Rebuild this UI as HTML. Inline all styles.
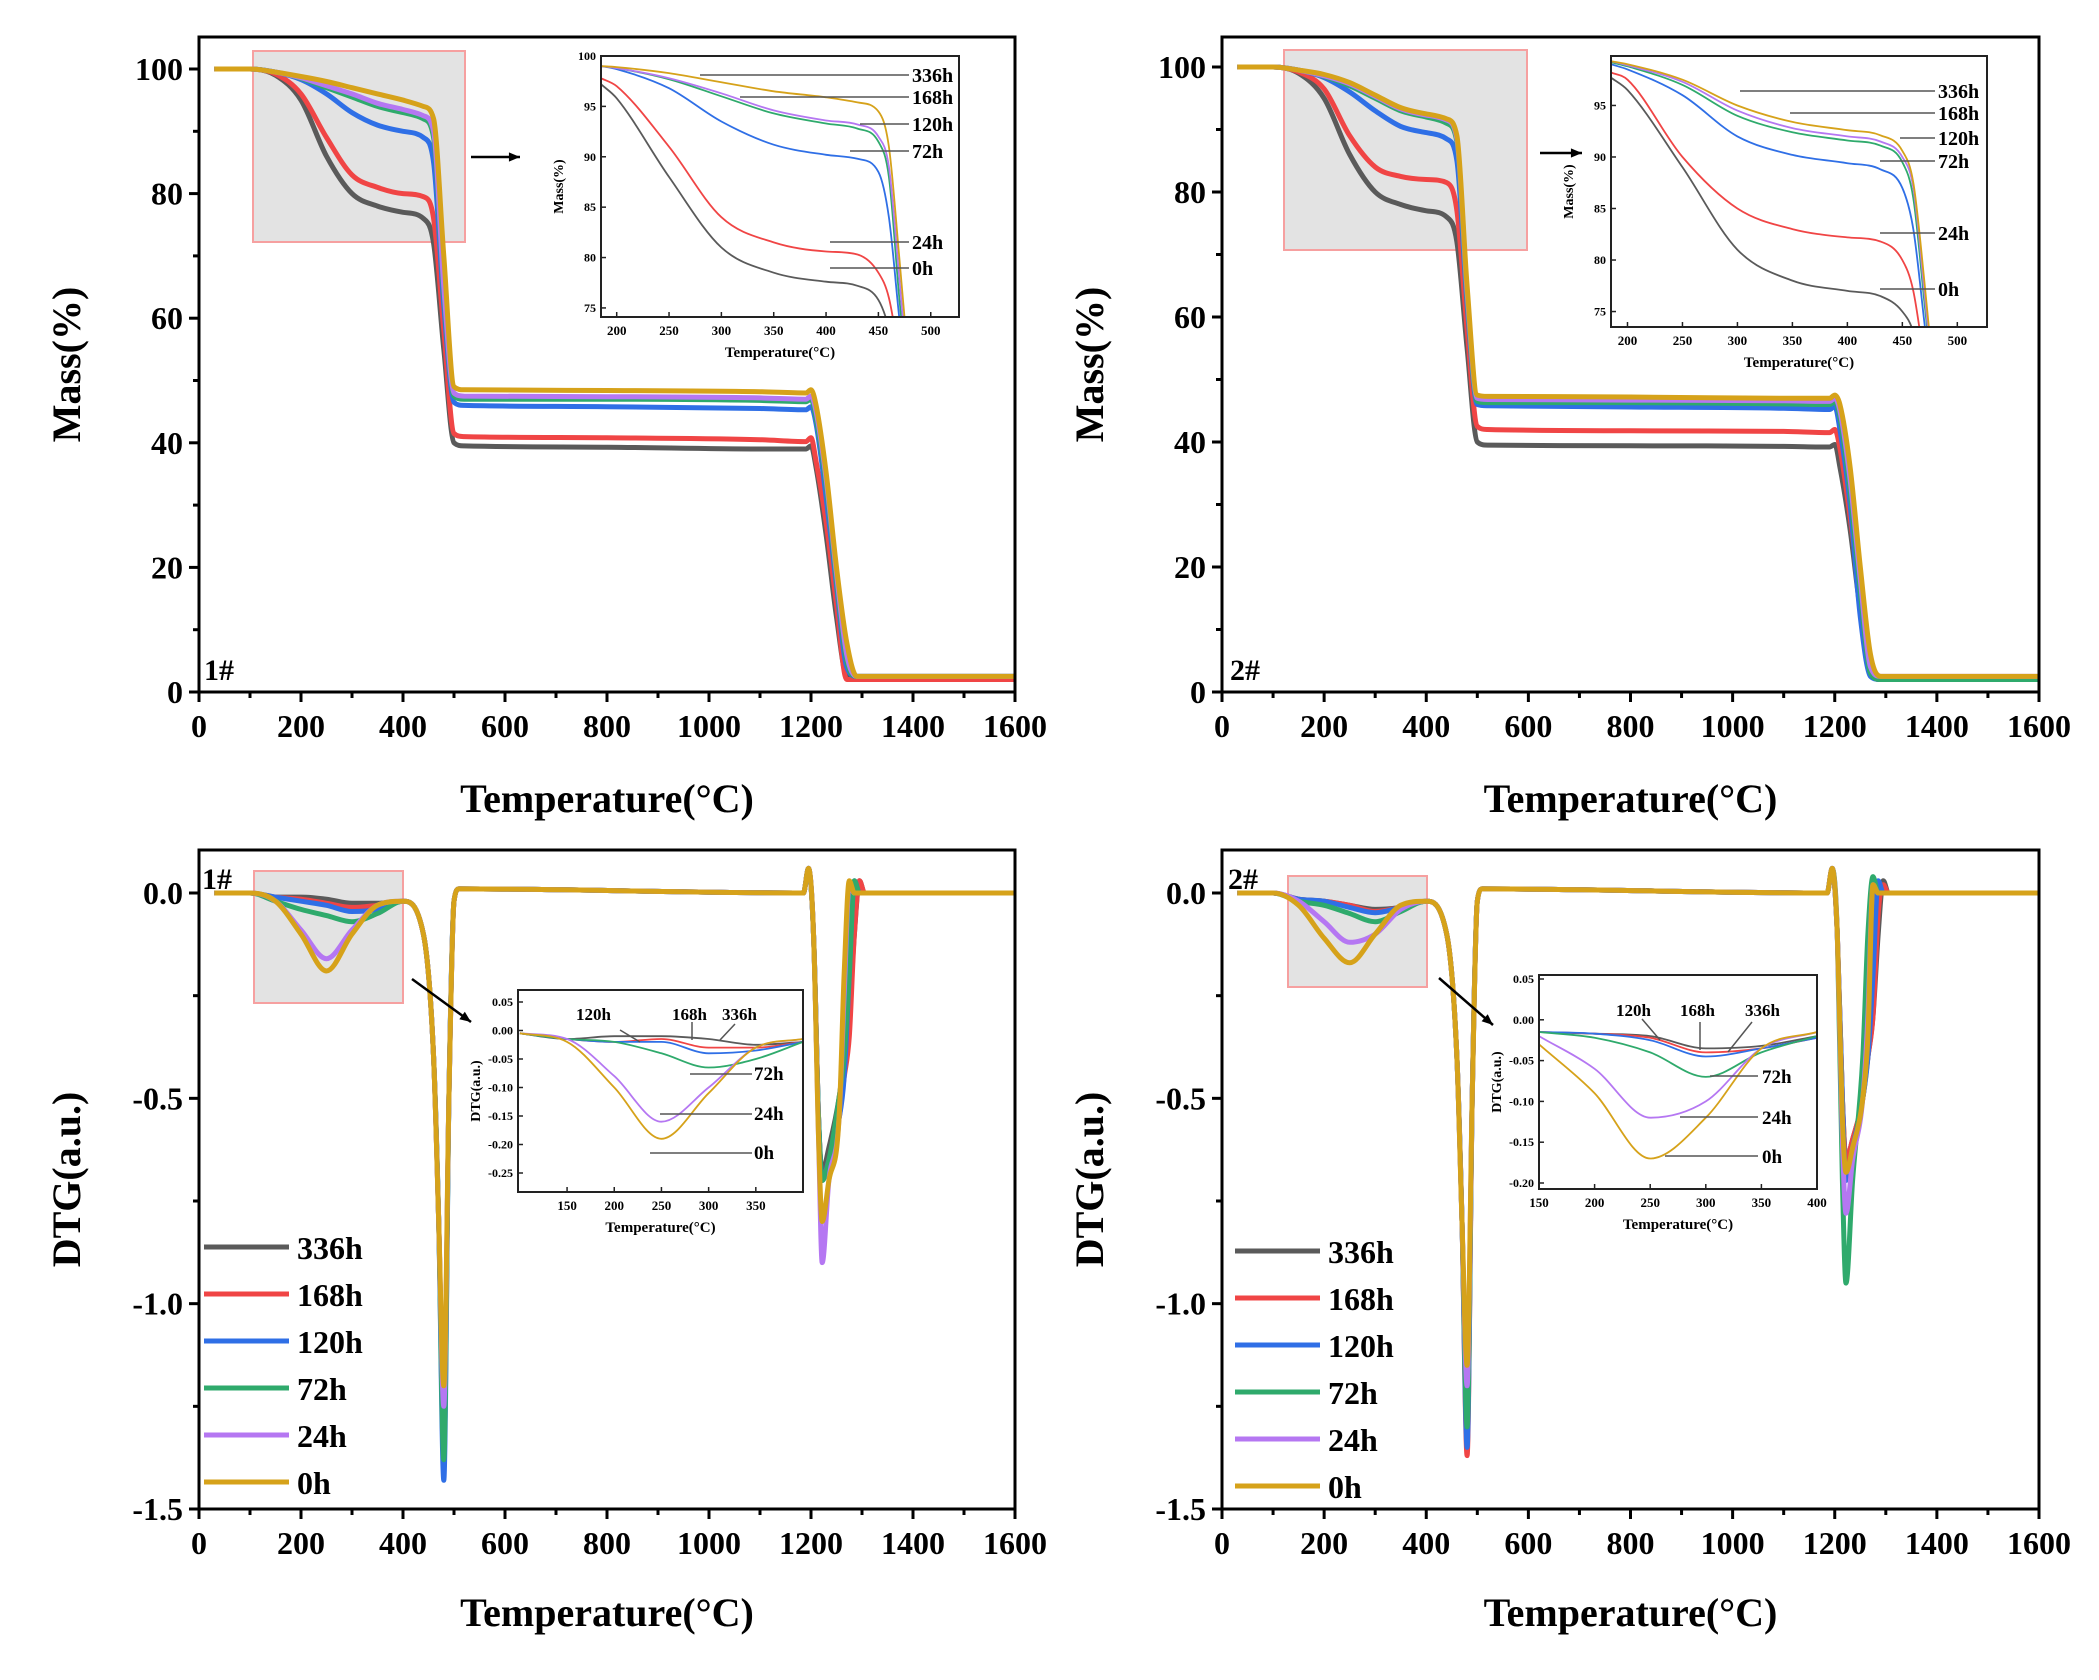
<!DOCTYPE html>
<html><head><meta charset="utf-8"><style>
html,body{margin:0;padding:0;background:#fff}
svg{display:block}
text{font-family:"Liberation Serif",serif;font-weight:bold;fill:#000}
</style></head><body>
<svg id="fig" width="2099" height="1680" viewBox="0 0 2099 1680" xmlns="http://www.w3.org/2000/svg"></svg>
<script>
const seriesNames = ["336h","168h","120h","72h","24h","0h"];
const seriesColors = ["#5a5a5a","#f04545","#2f6fe6","#2faa6c","#b577f2","#d6a21a"];
// Mass main: temps
const massT = [30,100,150,200,250,300,350,400,440,460,480,500,520,800,1100,1190,1200,1210,1230,1250,1270,1290,1300,1600];
const mass1 = [
 [100,100,99,95,86,80,78,77,76,72,55,40,39.5,39.3,39,39,39.5,36,25,12,2.5,2,2,2],
 [100,100,99.2,96,89,83,81,80,79.5,76,58,41.5,41,40.8,40.5,40.2,40.8,37,27,14,2,2,2,2],
 [100,100,99.5,98.3,96,93,91,90,89,85,62,46.5,46,45.8,45.5,45.3,45.8,43,31,17,4,2.5,2.5,2.5],
 [100,100,99.5,98.5,97,95.5,94,93,92,89,64,47.5,47,47,46.8,46.6,47,44,33,18,5,2.5,2.5,2.5],
 [100,100,99.5,98.6,97.3,96,94.5,93.5,92.5,90,65,48,47.5,47.4,47.2,47,47.5,45,34,19,6,2.5,2.5,2.5],
 [100,100,99.5,98.8,98,97,96,95,94,92,70,49,48.5,48.4,48.2,48,48.5,46,35,20,8,2.5,2.5,2.5]];
const mass2 = [
 [100,100,99,95,86,80,78,77,76,72,55,40,39.5,39.4,39.3,39.2,39.6,36,26,13,3,2,2,2],
 [100,100,99.2,96.5,89,84,82.5,82,81.5,77,58,42.5,42,41.8,41.7,41.5,42,39,28,15,3,2,2,2],
 [100,100,99.5,98.3,96,93,90.5,89.5,88.5,85,62,46,45.8,45.6,45.4,45.2,45.7,42,30,12,2.5,2,2,2],
 [100,100,99.5,98.5,97,95,93,92,91,88,63,46.5,46.3,46.3,46.1,46,46.5,44,32,16,3,2,2,2],
 [100,100,99.5,98.6,97.3,95.3,93.3,92.3,91.5,88.5,64,47,46.8,46.7,46.6,46.5,47,45,34,18,4,2.5,2.5,2.5],
 [100,100,99.5,98.8,97.5,95.5,93.5,92.5,91.7,89,65,47.5,47.3,47.2,47,47,47.5,46,36,20,6,2.5,2.5,2.5]];
// Mass insets
const insetT = [185,200,250,300,350,400,430,450,460,470,480];
const inset1 = [
 [97.2,95.8,88,81,78.5,77.6,77.2,75.8,73,68,60],
 [97.8,97,91,84,81.5,80.6,80.3,78.5,76,70,62],
 [99,98.7,96.8,93.5,91.2,90.2,89.8,88.5,84,74,65],
 [99,98.8,97.7,96,94.3,93.3,92.8,91.5,88,76,66],
 [99,98.8,97.8,96.3,94.6,93.6,93.2,92,89,78,66],
 [99,98.9,98.3,97.4,96.5,95.9,95.4,94.5,91,80,68]];
const inset2 = [
 [97.7,96.5,89,81,78,77,76.5,75,73,68,60],
 [98.2,97.5,90,85,83,82.2,81.8,80,77,70,62],
 [99,98.5,96,92,90.2,89.4,88.8,87,83,74,65],
 [99.2,98.8,97,94,92.4,91.6,91.1,89.5,86,76,66],
 [99.3,98.9,97.3,94.5,92.8,92,91.5,90,87,77,66],
 [99.3,99,97.5,95,93.4,92.6,92.1,90.6,87.5,78,67]];
// DTG main
const dtgT = [30,100,150,200,250,300,350,400,440,460,470,480,490,500,510,1185,1195,1205,1215,1222,1235,1255,1265,1275,1285,1295,1305,1320,1600];
const dtg1 = [
 [0,0,-0.01,-0.01,-0.015,-0.025,-0.025,-0.02,-0.1,-0.4,-0.8,-1.3,-0.5,-0.02,0.01,0,0.06,-0.1,-0.55,-0.68,-0.62,-0.5,-0.4,-0.3,-0.1,0.03,0,0,0],
 [0,0,-0.01,-0.015,-0.025,-0.035,-0.03,-0.02,-0.1,-0.4,-0.8,-1.3,-0.5,-0.02,0.01,0,0.06,-0.1,-0.55,-0.7,-0.65,-0.55,-0.45,-0.35,-0.1,0.03,0,0,0],
 [0,0,-0.01,-0.02,-0.03,-0.045,-0.04,-0.02,-0.1,-0.4,-0.8,-1.43,-0.5,-0.02,0.01,0,0.06,-0.1,-0.55,-0.7,-0.65,-0.55,-0.45,-0.2,0.03,0,0,0,0],
 [0,0,-0.02,-0.04,-0.055,-0.07,-0.05,-0.02,-0.1,-0.4,-0.8,-1.38,-0.5,-0.02,0.01,0,0.06,-0.1,-0.55,-0.7,-0.65,-0.5,-0.4,-0.2,0.03,0,0,0,0],
 [0,0,-0.02,-0.09,-0.16,-0.09,-0.03,-0.02,-0.1,-0.4,-0.8,-1.25,-0.5,-0.02,0.01,0,0.06,-0.1,-0.6,-0.9,-0.7,-0.55,-0.25,0.02,0,0,0,0,0],
 [0,0,-0.02,-0.1,-0.19,-0.1,-0.03,-0.02,-0.1,-0.4,-0.8,-1.2,-0.5,-0.02,0.01,0,0.06,-0.1,-0.6,-0.8,-0.7,-0.55,-0.2,0.03,0,0,0,0,0]];
const dtg2 = [
 [0,0,-0.015,-0.02,-0.03,-0.04,-0.035,-0.02,-0.1,-0.4,-0.8,-1.3,-0.5,-0.02,0.01,0,0.06,-0.1,-0.5,-0.65,-0.6,-0.5,-0.4,-0.3,-0.1,0.03,0,0,0],
 [0,0,-0.015,-0.02,-0.03,-0.045,-0.035,-0.02,-0.1,-0.4,-0.8,-1.37,-0.5,-0.02,0.01,0,0.06,-0.1,-0.5,-0.65,-0.6,-0.5,-0.4,-0.3,-0.05,0.02,0,0,0],
 [0,0,-0.015,-0.02,-0.035,-0.048,-0.035,-0.02,-0.1,-0.4,-0.8,-1.35,-0.5,-0.02,0.01,0,0.06,-0.1,-0.5,-0.7,-0.62,-0.5,-0.4,-0.2,0.03,0,0,0,0],
 [0,0,-0.02,-0.03,-0.05,-0.07,-0.045,-0.02,-0.1,-0.4,-0.8,-1.3,-0.5,-0.02,0.01,0,0.06,-0.1,-0.7,-0.95,-0.7,-0.4,-0.1,0.04,0,0,0,0,0],
 [0,0,-0.02,-0.07,-0.12,-0.1,-0.04,-0.02,-0.1,-0.4,-0.8,-1.2,-0.5,-0.02,0.01,0,0.06,-0.1,-0.6,-0.78,-0.65,-0.5,-0.3,0.02,0,0,0,0,0],
 [0,0,-0.03,-0.11,-0.17,-0.1,-0.03,-0.02,-0.1,-0.4,-0.8,-1.15,-0.5,-0.02,0.01,0,0.06,-0.1,-0.55,-0.68,-0.62,-0.5,-0.35,0.02,0,0,0,0,0]];
// DTG insets
const dtgInsetT = [100,150,200,250,300,350,400];
const dtgInset1 = [
 [-0.005,-0.015,-0.01,-0.01,-0.015,-0.025,-0.02],
 [-0.005,-0.015,-0.02,-0.015,-0.03,-0.03,-0.02],
 [-0.005,-0.015,-0.02,-0.02,-0.04,-0.035,-0.02],
 [-0.005,-0.015,-0.02,-0.04,-0.065,-0.05,-0.02],
 [-0.005,-0.015,-0.08,-0.16,-0.1,-0.03,-0.015],
 [-0.005,-0.02,-0.1,-0.19,-0.11,-0.03,-0.015]];
const dtgInsetT2 = [150,200,250,300,350,400];
const dtgInset2 = [
 [-0.015,-0.017,-0.02,-0.035,-0.032,-0.02],
 [-0.015,-0.017,-0.022,-0.04,-0.035,-0.022],
 [-0.015,-0.017,-0.025,-0.045,-0.035,-0.022],
 [-0.015,-0.022,-0.04,-0.07,-0.04,-0.02],
 [-0.02,-0.06,-0.12,-0.1,-0.035,-0.015],
 [-0.03,-0.09,-0.17,-0.12,-0.035,-0.015]];

const NS="http://www.w3.org/2000/svg";
const svg=document.getElementById('fig');
function mk(tag,attrs,parent){const e=document.createElementNS(NS,tag);for(const k in attrs)e.setAttribute(k,attrs[k]);(parent||svg).appendChild(e);return e;}
function txt(s,x,y,size,anchor,parent,rot){const t=mk('text',{x:x,y:y,'font-size':size,'text-anchor':anchor||'middle'},parent);if(rot)t.setAttribute('transform','rotate(-90 '+x+' '+y+')');t.textContent=s;return t;}
function lin(d0,d1,r0,r1){return v=>r0+(v-d0)*(r1-r0)/(d1-d0);}
function pathMono(xs,ys,sx,sy){
  const X=xs.map(sx),Y=ys.map(sy),n=X.length;const d=[],m=new Array(n);
  for(let i=0;i<n-1;i++)d.push((Y[i+1]-Y[i])/(X[i+1]-X[i]));
  m[0]=d[0];m[n-1]=d[n-2];
  for(let i=1;i<n-1;i++){m[i]=(d[i-1]*d[i]<=0)?0:(d[i-1]+d[i])/2;}
  for(let i=0;i<n-1;i++){if(d[i]===0){m[i]=0;m[i+1]=0;continue;}const a=m[i]/d[i],b=m[i+1]/d[i],s=a*a+b*b;if(s>9){const t=3/Math.sqrt(s);m[i]=t*a*d[i];m[i+1]=t*b*d[i];}}
  let p='M'+X[0].toFixed(1)+' '+Y[0].toFixed(1);
  for(let i=0;i<n-1;i++){const h=(X[i+1]-X[i])/3;p+=' C'+(X[i]+h).toFixed(1)+' '+(Y[i]+m[i]*h).toFixed(1)+' '+(X[i+1]-h).toFixed(1)+' '+(Y[i+1]-m[i+1]*h).toFixed(1)+' '+X[i+1].toFixed(1)+' '+Y[i+1].toFixed(1);}
  return p;}

let clipN=0;
function axesPanel(o){
  const g=mk('g',{});
  
  
  const sx=lin(o.xd[0],o.xd[1],o.x0,o.x1), sy=lin(o.yd[0],o.yd[1],o.y0,o.y1);
  const cid='c'+(clipN++);
  const cp=mk('clipPath',{id:cid},g);mk('rect',{x:o.x0,y:o.top,width:o.x1-o.x0,height:o.bot-o.top},cp);
  return {g,sx,sy,cid};
}
function mainPanel(o){
  o.bot=o.bot||o.y0;
  const P=axesPanel(o);const {g,sx,sy,cid}=P;
  const sb=mk('rect',{x:o.box[0],y:o.box[1],width:o.box[2],height:o.box[3],fill:'#e3e3e3',stroke:'#f6a0a0','stroke-width':2},g);
  
  
  const lg=mk('g',{'clip-path':'url(#'+cid+')'},g);
  o.data.forEach((ys,i)=>{const p=mk('path',{d:pathMono(o.T,ys,sx,sy),fill:'none',stroke:seriesColors[i],'stroke-width':5,'stroke-linejoin':'round'},lg);
    
    });
  const fr=mk('path',{d:`M${o.x0} ${o.top} H${o.x1} V${o.bot} H${o.x0} Z`,fill:'none',stroke:'#000','stroke-width':3},g);
  
  
  for(let v=0;v<=1600;v+=100){const X=sx(v);const major=v%200===0;mk('line',{x1:X,y1:o.bot,x2:X,y2:o.bot+(major?10:6),stroke:'#000','stroke-width':3},g);
    if(major){const t=txt(String(v),X,o.bot+45,32,'middle',g);}}
  o.yt.forEach(v=>{const Y=sy(v);mk('line',{x1:o.x0,y1:Y,x2:o.x0-10,y2:Y,stroke:'#000','stroke-width':3},g);const t=txt(o.yf(v),o.x0-16,Y+11,32,'end',g);});
  o.ym.forEach(v=>{const Y=sy(v);mk('line',{x1:o.x0,y1:Y,x2:o.x0-6,y2:Y,stroke:'#000','stroke-width':3},g);});
  const xt=txt('Temperature(\u00B0C)',(o.x0+o.x1)/2,o.xtY,40,'middle',g);
  const yt=txt(o.ytitle,o.ytX,(o.top+o.bot)/2,40,'middle',g,true);
  const sl=txt(o.sample,o.sampleXY[0],o.sampleXY[1],30,'start',g);
  return P;
}
function insetPanel(o){
  const P=axesPanel(o);const {g,sx,sy,cid}=P;
  mk('rect',{x:o.x0,y:o.top,width:o.x1-o.x0,height:o.bot-o.top,fill:'#fff'},g);
  const lg=mk('g',{'clip-path':'url(#'+cid+')'},g);
  o.data.forEach((ys,i)=>{const p=mk('path',{d:pathMono(o.T,ys,sx,sy),fill:'none',stroke:seriesColors[i],'stroke-width':1.8},lg);
    
    });
  mk('path',{d:`M${o.x0} ${o.top} H${o.x1} V${o.bot} H${o.x0} Z`,fill:'none',stroke:'#222','stroke-width':2},g);
  o.xt.forEach(v=>{const X=sx(v);mk('line',{x1:X,y1:o.bot,x2:X,y2:o.bot-5,stroke:'#222','stroke-width':1.5},g);txt(String(v),X,o.bot+18,13,'middle',g);});
  o.yt.forEach(v=>{const Y=sy(v);mk('line',{x1:o.x0,y1:Y,x2:o.x0+5,y2:Y,stroke:'#222','stroke-width':1.5},g);txt(o.yf(v),o.x0-5,Y+4,12,'end',g);});
  const xt=txt('Temperature(\u00B0C)',(o.x0+o.x1)/2,o.bot+40,15,'middle',g);
  const yt=txt(o.ytitle,o.x0-38,(o.top+o.bot)/2,14,'middle',g,true);
  o.labels.forEach(L=>{mk('line',{x1:L[1],y1:L[2],x2:L[3],y2:L[4],stroke:'#555','stroke-width':1.5},g);const t=txt(L[0],L[5],L[6],L[7]||20,'start',g);});
  return P;
}
function arrow(x1,y1,x2,y2){const g=mk('g',{});
  mk('line',{x1,y1,x2,y2,stroke:'#000','stroke-width':2.5},g);const a=Math.atan2(y2-y1,x2-x1),s=12;
  mk('path',{d:`M${x2} ${y2} L${x2-s*Math.cos(a-0.4)} ${y2-s*Math.sin(a-0.4)} L${x2-s*Math.cos(a+0.4)} ${y2-s*Math.sin(a+0.4)} Z`,fill:'#000'},g);}

const massYt=[0,20,40,60,80,100], massYm=[10,30,50,70,90];
const dtgYt=[0,-0.5,-1.0,-1.5], dtgYm=[-0.25,-0.75,-1.25];
const fmtInt=v=>String(v), fmt1=v=>v.toFixed(1), fmt2=v=>v.toFixed(2);

// Top-left
mainPanel({name:'mass-panel-1',xd:[0,1600],x0:199,x1:1015,yd:[0,100],y0:692,y1:69,top:37,T:massT,data:mass1,box:[253,51,212,191],yt:massYt,ym:massYm,yf:fmtInt,xtY:812,ytitle:'Mass(%)',ytX:80,sample:'1#',sampleXY:[204,680]});
insetPanel({name:'mass-inset-1',xd:[185,527],x0:601,x1:959,yd:[74.1,100],y0:317,y1:56,top:56,bot:317,T:insetT,data:inset1,xt:[200,250,300,350,400,450,500],yt:[75,80,85,90,95,100],yf:fmtInt,ytitle:'Mass(%)',
 labels:[['336h',700,75,909,75,912,82],['168h',740,97,909,97,912,104],['120h',860,124,909,124,912,131],['72h',850,151,909,151,912,158],['24h',830,242,909,242,912,249],['0h',830,268,909,268,912,275]]});
arrow(471,157,520,157);
// Top-right
mainPanel({name:'mass-panel-2',xd:[0,1600],x0:1222,x1:2039,yd:[0,100],y0:692,y1:67,top:37,T:massT,data:mass2,box:[1284,50,243,200],yt:massYt,ym:massYm,yf:fmtInt,xtY:812,ytitle:'Mass(%)',ytX:1103,sample:'2#',sampleXY:[1230,680]});
insetPanel({name:'mass-inset-2',xd:[185,527],x0:1611,x1:1987,yd:[73.5,99.8],y0:327,y1:56,top:56,bot:327,T:insetT,data:inset2,xt:[200,250,300,350,400,450,500],yt:[75,80,85,90,95],yf:fmtInt,ytitle:'Mass(%)',
 labels:[['336h',1740,91,1935,91,1938,98],['168h',1790,113,1935,113,1938,120],['120h',1900,138,1935,138,1938,145],['72h',1880,161,1935,161,1938,168],['24h',1880,233,1935,233,1938,240],['0h',1880,289,1935,289,1938,296]]});
arrow(1540,153,1582,153);
// Bottom-left
mainPanel({name:'dtg-panel-1',xd:[0,1600],x0:199,x1:1015,yd:[-1.5,0],y0:1509,y1:893,top:850,bot:1509,T:dtgT,data:dtg1,box:[254,871,149,132],yt:dtgYt,ym:dtgYm,yf:fmt1,xtY:1626,ytitle:'DTG(a.u.)',ytX:80,sample:'1#',sampleXY:[202,889]});
insetPanel({name:'dtg-inset-1',xd:[98,400],x0:518,x1:803,yd:[-0.25,0.05],y0:1173,y1:1002,top:990,bot:1192,T:dtgInsetT,data:dtgInset1,xt:[150,200,250,300,350],yt:[0.05,0,-0.05,-0.1,-0.15,-0.2,-0.25],yf:fmt2,ytitle:'DTG(a.u.)',
 labels:[['120h',620,1030,640,1042,576,1020,17],['168h',692,1022,692,1040,672,1020,17],['336h',735,1024,720,1040,722,1020,17],['72h',690,1074,752,1074,754,1080,19],['24h',660,1114,752,1114,754,1120,19],['0h',650,1153,752,1153,754,1159,19]]});
arrow(412,979,471,1022);
// Bottom-right
mainPanel({name:'dtg-panel-2',xd:[0,1600],x0:1222,x1:2039,yd:[-1.5,0],y0:1509,y1:893,top:850,bot:1509,T:dtgT,data:dtg2,box:[1288,876,139,111],yt:dtgYt,ym:dtgYm,yf:fmt1,xtY:1626,ytitle:'DTG(a.u.)',ytX:1103,sample:'2#',sampleXY:[1228,889]});
insetPanel({name:'dtg-inset-2',xd:[150,400],x0:1539,x1:1817,yd:[-0.20,0.05],y0:1183,y1:979,top:975,bot:1189,T:dtgInsetT2,data:dtgInset2,xt:[150,200,250,300,350,400],yt:[0.05,0,-0.05,-0.1,-0.15,-0.2],yf:fmt2,ytitle:'DTG(a.u.)',
 labels:[['120h',1642,1019,1660,1040,1616,1016,17],['168h',1700,1022,1700,1050,1680,1016,17],['336h',1752,1022,1728,1052,1745,1016,17],['72h',1710,1076,1758,1076,1762,1083,19],['24h',1680,1117,1758,1117,1762,1124,19],['0h',1665,1156,1758,1156,1762,1163,19]]});
arrow(1439,978,1493,1025);

// Legends
function legend(x,y0,name){const g=mk('g',{});
  seriesNames.forEach((n,i)=>{const y=y0+i*47;const e=mk('g',{},g);
    mk('line',{x1:x,y1:y,x2:x+85,y2:y,stroke:seriesColors[i],'stroke-width':5},e);txt(n,x+93,y+12,32,'start',e);});}
legend(204,1247,'legend-1');
legend(1235,1251,'legend-2');
</script>
</body></html>
